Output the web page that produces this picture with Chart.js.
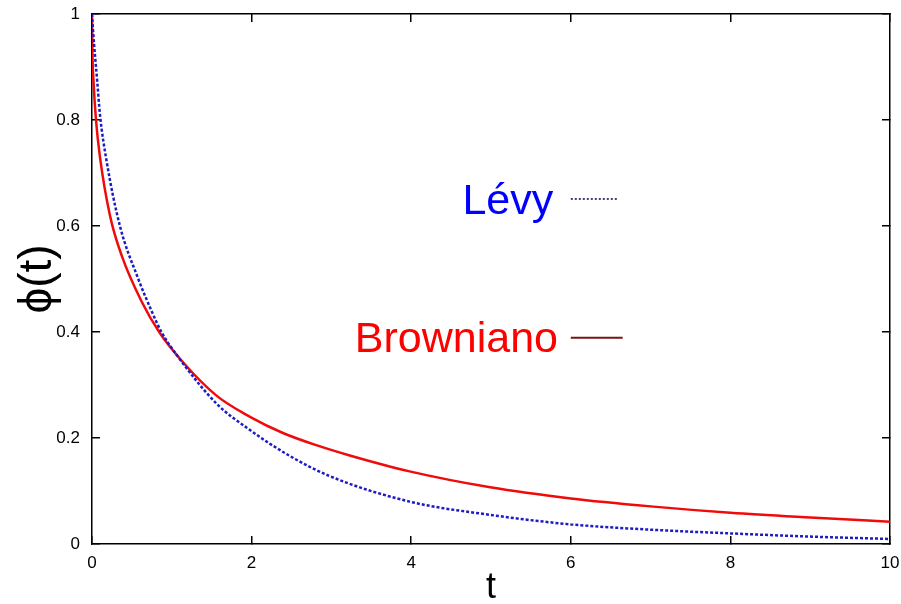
<!DOCTYPE html>
<html>
<head>
<meta charset="utf-8">
<script src="https://cdn.jsdelivr.net/npm/chart.js@4/dist/chart.umd.min.js"></script>
<style>
  html, body { margin: 0; padding: 0; background: #fff; }
  #wrap { width: 901px; height: 604px; }
</style>
</head>
<body>
<div id="wrap"><canvas id="phi-chart" width="901" height="604"></canvas></div>
<script>
// phi(t)
var levyT = [0, 0.0125, 0.067, 0.1, 0.18, 0.35, 0.57, 0.74, 0.87, 1.06, 1.56, 1.98, 2.48, 2.98, 3.98, 4.99, 6, 7, 8, 9, 10];
var levyPhi = [1, 0.97, 0.87, 0.81, 0.725, 0.6, 0.504, 0.442, 0.4, 0.357, 0.265, 0.215, 0.166, 0.128, 0.080, 0.055, 0.037, 0.027, 0.020, 0.014, 0.0095];

var brownT = [0, 0.005, 0.02, 0.05, 0.1, 0.225, 0.37, 0.62, 0.85, 1.14, 1.56, 1.98, 2.4, 2.82, 3.23, 3.98, 4.99, 6, 7, 8, 9, 10];
var brownPhi = [1, 0.93, 0.87, 0.8, 0.73, 0.62, 0.545, 0.458, 0.398, 0.343, 0.28, 0.24, 0.209, 0.186, 0.167, 0.137, 0.107, 0.086, 0.071, 0.059, 0.05, 0.042];

var xTicks = [0, 2, 4, 6, 8, 10];
var yTicks = [0, 0.2, 0.4, 0.6, 0.8, 1];

var FONT = "'Liberation Sans', Arial, sans-serif";

function points(xs, ys) {
  return xs.map(function (x, i) { return { x: x, y: ys[i] }; });
}

function fixedTicks(list) {
  return function (s) { s.ticks = list.map(function (v) { return { value: v }; }); };
}

// key drawn gnuplot-style: text right-aligned, sample line to its right
var keyPlugin = {
  id: 'phiKey',
  afterDatasetsDraw: function (chart) {
    var ctx = chart.ctx;
    var xs = chart.scales.x, ys = chart.scales.y;
    var entries = [
      { text: 'Lévy', color: '#0000ff', line: '#14145a', dash: [2, 2], w: 1.6, tx: 5.78, ty: 0.623, ly: 0.651, l0: 6.0, l1: 6.6 },
      { text: 'Browniano', color: '#ff0000', line: '#7a1414', dash: [], w: 2, tx: 5.84, ty: 0.362, ly: 0.389, l0: 6.0, l1: 6.65 }
    ];
    ctx.save();
    entries.forEach(function (e) {
      ctx.font = '43px ' + FONT;
      ctx.fillStyle = e.color;
      ctx.textAlign = 'right';
      ctx.textBaseline = 'alphabetic';
      ctx.fillText(e.text, xs.getPixelForValue(e.tx), ys.getPixelForValue(e.ty));
      ctx.beginPath();
      ctx.setLineDash(e.dash);
      ctx.lineWidth = e.w;
      ctx.strokeStyle = e.line;
      var y = ys.getPixelForValue(e.ly);
      ctx.moveTo(xs.getPixelForValue(e.l0), y);
      ctx.lineTo(xs.getPixelForValue(e.l1), y);
      ctx.stroke();
    });
    ctx.restore();
  }
};

function mirrorAxis(pos, min, max, list, size) {
  return {
    type: 'linear',
    position: pos,
    min: min, max: max,
    afterBuildTicks: fixedTicks(list),
    border: { display: true, color: '#000', width: 1.5 },
    grid: { drawOnChartArea: false, drawTicks: true, tickLength: -8, color: '#000', lineWidth: 1.5 },
    ticks: { display: false },
    afterFit: function (s) {
      if (pos === 'top') s.height = size; else s.width = size;
      s.paddingLeft = s.paddingRight = s.paddingTop = s.paddingBottom = 0;
    }
  };
}

new Chart(document.getElementById('phi-chart').getContext('2d'), {
  type: 'scatter',
  data: {
    datasets: [{
      label: 'Lévy',
      data: points(levyT, levyPhi),
      showLine: true,
      borderColor: '#1c1cc4',
      borderWidth: 2.5,
      borderDash: [3, 2],
      pointRadius: 0,
      cubicInterpolationMode: 'monotone'
    }, {
      label: 'Browniano',
      data: points(brownT, brownPhi),
      showLine: true,
      borderColor: '#f00a0a',
      borderWidth: 2.5,
      pointRadius: 0,
      cubicInterpolationMode: 'monotone'
    }]
  },
  options: {
    responsive: false,
    animation: false,
    layout: { padding: 0 },
    plugins: {
      legend: { display: false },
      tooltip: { enabled: false }
    },
    scales: {
      x: {
        type: 'linear',
        position: 'bottom',
        min: 0, max: 10,
        afterBuildTicks: fixedTicks(xTicks),
        border: { display: true, color: '#000', width: 1.5 },
        grid: { drawOnChartArea: false, tickLength: -8, color: '#000', lineWidth: 1.5 },
        ticks: { padding: 17, color: '#000', font: { family: FONT, size: 17 }, maxRotation: 0 },
        title: { display: true, text: 't', color: '#000', font: { family: FONT, size: 36, lineHeight: 0.9 }, padding: { top: 0, bottom: 0 } },
        afterFit: function (s) {
          s.height = 60;
          s.paddingLeft = s.paddingRight = 0;
        }
      },
      y: {
        type: 'linear',
        position: 'left',
        min: 0, max: 1,
        afterBuildTicks: fixedTicks(yTicks),
        border: { display: true, color: '#000', width: 1.5 },
        grid: { drawOnChartArea: false, tickLength: -8, color: '#000', lineWidth: 1.5 },
        ticks: {
          padding: 20, color: '#000', font: { family: FONT, size: 17 },
          callback: function (v) { return String(Math.round(v * 10) / 10); }
        },
        title: { display: true, text: 'ϕ(t)', color: '#000', font: { family: FONT, size: 46, lineHeight: 1 }, padding: { top: 15, bottom: 0 } },
        afterFit: function (s) {
          s.width = 92;
          s.paddingTop = s.paddingBottom = 0;
        }
      },
      x2: mirrorAxis('top', 0, 10, xTicks, 14),
      y2: mirrorAxis('right', 0, 1, yTicks, 11)
    }
  },
  plugins: [keyPlugin]
});
</script>
</body>
</html>
